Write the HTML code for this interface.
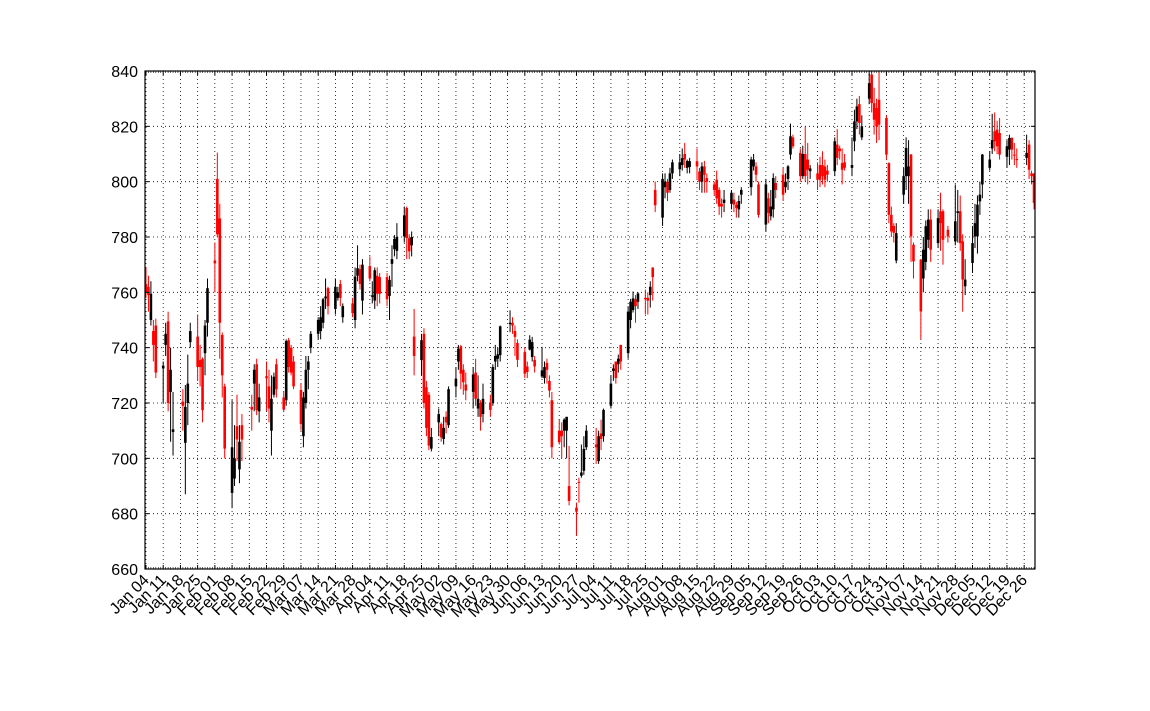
<!DOCTYPE html>
<html>
<head>
<meta charset="utf-8">
<style>
html,body{margin:0;padding:0;background:#fff;}
svg{display:block;font-family:"Liberation Sans","DejaVu Sans",sans-serif;}
</style>
</head>
<body>
<svg id="chart" width="1150" height="711" viewBox="0 0 1150 711" xmlns="http://www.w3.org/2000/svg">
  <rect x="0" y="0" width="1150" height="711" fill="#fff"/>
  <g id="grid"></g>
  <g id="candles"></g>
  <g id="axes"></g>
</svg>
<script>
const dates = [
"01-04","01-05","01-06","01-07","01-08","01-11","01-12","01-13","01-14","01-15","01-19","01-20","01-21","01-22","01-25","01-26","01-27","01-28","01-29",
"02-01","02-02","02-03","02-04","02-05","02-08","02-09","02-10","02-11","02-12","02-16","02-17","02-18","02-19","02-22","02-23","02-24","02-25","02-26","02-29",
"03-01","03-02","03-03","03-04","03-07","03-08","03-09","03-10","03-11","03-14","03-15","03-16","03-17","03-18","03-21","03-22","03-23","03-24","03-28","03-29","03-30","03-31",
"04-01","04-04","04-05","04-06","04-07","04-08","04-11","04-12","04-13","04-14","04-15","04-18","04-19","04-20","04-21","04-22","04-25","04-26","04-27","04-28","04-29",
"05-02","05-03","05-04","05-05","05-06","05-09","05-10","05-11","05-12","05-13","05-16","05-17","05-18","05-19","05-20","05-23","05-24","05-25","05-26","05-27","05-31",
"06-01","06-02","06-03","06-06","06-07","06-08","06-09","06-10","06-13","06-14","06-15","06-16","06-17","06-20","06-21","06-22","06-23","06-24","06-27","06-28","06-29","06-30",
"07-01","07-05","07-06","07-07","07-08","07-11","07-12","07-13","07-14","07-15","07-18","07-19","07-20","07-21","07-22","07-25","07-26","07-27","07-28","07-29",
"08-01","08-02","08-03","08-04","08-05","08-08","08-09","08-10","08-11","08-12","08-15","08-16","08-17","08-18","08-19","08-22","08-23","08-24","08-25","08-26","08-29","08-30","08-31",
"09-01","09-02","09-06","09-07","09-08","09-09","09-12","09-13","09-14","09-15","09-16","09-19","09-20","09-21","09-22","09-23","09-26","09-27","09-28","09-29","09-30",
"10-03","10-04","10-05","10-06","10-07","10-10","10-11","10-12","10-13","10-14","10-17","10-18","10-19","10-20","10-21","10-24","10-25","10-26","10-27","10-28","10-31",
"11-01","11-02","11-03","11-04","11-07","11-08","11-09","11-10","11-11","11-14","11-15","11-16","11-17","11-18","11-21","11-22","11-23","11-25","11-28","11-29","11-30",
"12-01","12-02","12-05","12-06","12-07","12-08","12-09","12-12","12-13","12-14","12-15","12-16","12-19","12-20","12-21","12-22","12-23","12-27","12-28","12-29","12-30"
];
const opens = [
763,762,750,746,748,732.5,741,749.5,724,709.5,720.5,705.6,720,742,744,735.5,736,738,749,
771.5,801,786.7,744.6,726,687.5,692.7,711.6,696,712,718.6,727,734,717,729.7,726,710,723,734,722,
721,742.7,740,735,724.7,708,720,732,740,745,746,749,757.8,761.5,754,758,763,751,756,750,766,768.4,
757,769.5,758.4,757,766,765.5,765.5,758.7,770.3,775.6,775,780.2,790.5,779.6,777,744,735.5,745,725.7,723,703.5,
713,712.4,707,715,712,726,735,740.5,732,726.7,724,731,718,720,716,720,720,735,736,737.3,748.5,
749,746,741.7,738.4,733.2,739.3,736.6,735.6,729.6,729,734.5,728,721,710,710,710,710,690,682.2,691.5,693.7,695.5,
704,705,699,709,708,719,731.6,735,734,741,738,750,753.6,757.5,756.6,758,758,759,769,797,
787,798,800,797,803,804.5,806,810,805,805.3,807.4,803.7,800,805.5,801.3,799,800.7,797,792,792.3,792,793.5,791.6,
790,795.3,798,805.5,805.5,799,784.5,794,787.5,790,799.5,802.5,798,801,809.8,816,810.4,802,810,808,803.8,
803,806,806,805.5,804,803.8,813.4,812,806.7,807,805,814.6,821.8,828,816,830,838.7,828.4,826.6,829.6,823,
806.7,788,784,771.5,795.3,802,802,809.8,777.2,771.8,765,771,779,786.3,777.8,789.3,789.3,782.6,778.4,788.7,789.3,
778.4,762.2,770.6,780.2,780.2,792.9,799,805,812,818.2,818.8,817.6,809,811.6,815.8,809.8,808.2,808.6,813.4,803,803
];
const highs = [
769,766,764,750,750.5,735,749,753,740,724,725,726.5,737.5,749,752,741,736.5,750,765,
778,810.5,792,745.5,727,721,712,723,712,716,723,734,736,727,735,732,730,731,736,724,
743,743.5,741,737,727,724,737,737,746,751,755,758,765,762,765,762,764.5,756,758,769,777,770,
772,773,764,769,769,767,767,766,777,780.7,785,791,791,781,782,754,745,747,728,724,711,
718,713,715,717,726,733,741,741,734,731,733,736,730,721,727,723,734,741,740,748,753.5,
751,748,743,740,735,744.5,743.9,737,740.3,735,736,730,724,714,713,714.5,715,704.5,684,693,705,708,
712,711,710,714,718,730,734,735,737.5,741,755,757.6,760.3,759,760,761,760,764,769,800,
803,803,801,805,808,810,812,814,808,808.6,812,805,807,807.5,803,800,804,798,794,797,797,796,792.7,
795,798,809,810,807,800,801,796,797,803,802,805,803,806,821,817,812,813,820,814,806,
807,809,811,808,806,816,819,813,812,810,816,826,830,831,824,839,840,834,830,840,824,
807,791,785,785,805,816,815,810,778,772,780,786,790,790,790,796,790,784,799,797,795,
781,772,784,792,795,800,810,811,824.5,825,822,823,815,817,816,814,812,817,815,804,803
];
const lows = [
758,753,748,735,729,720,737,717,706,701,710,687,712,740,728,726,713,730,744,
760,780,736,722,700,682,690,699,691,699,710,717,715.6,713,717,713,701,722,722,717,
719,731,730,725,710,704,718,725,738,743,743,747,754,752,752,757,755,749,751,747,764,761,
752,764,756,754,755,756,755,750,762,773,772,778,772,772,773,730,730,718,708,703,702.5,
708,706,705,709,711,722,732,725,723,721,718,719,715,710,713,715,719,732,733,735,745.6,
745,737,733,729,729,739,735,731,729,727,727,722,700,705,700,704,700,683,672,684,693,694,
703,698,698,703,706,718,728,727,731,732,736,747,752.7,749,754,752,752,754.5,757,789,
784,794,793,796,801,802,804,805,803,803,801,797,796,796,796,795,792,788,787,789,790,789,787,
787,792,795,804,800,787,782,785,786,787,794,793,796,797,808,812,800,801,800,799,801,
797,798,799,798,800,802,806,808,799,804,802,811,819,817,815,828,825,817,814,815,808,
785,780,778,770.5,792,797,792,771,765,743,760,768,776,771,776,775,770,778,777,778,775,
753,759,767,776,774,788,794,804,810,811,810,808,805,806,808,806,805,806,801,799,790
];
const closes = [
760,759,759.5,741,731,733.5,745,720,732,710.5,719,718.6,727,746,733,733,717.4,748,761.5,
770.5,781,749,730,703.5,704,700,706.8,706,706.8,717.6,732,717.4,722,728.9,718,721.5,729.5,725,717.6,
742.4,733,731,726,712.4,722,732,735,745,750,751,757.5,758.5,755,762,760,758,755,752.5,765.7,768.7,763,
770,765,758.9,768,759.5,759.5,757.5,764.5,772,779.3,780,787.8,779.6,774.8,780,737,742.7,720,711,704.6,707.7,
716,707.6,711,713,725,728.8,739.6,730.6,727.5,724.5,730.3,721.5,721.5,715,721.5,717.5,733,737,737.6,747.7,749,
748,743.9,735.6,730.6,731.2,742.9,742,733.2,731.8,733,732,724.5,704,705.8,708,714,715,684.6,680.7,691.2,694.9,703.4,
710,704,708,707,717.5,727,732.5,729,736,735,753,756.6,757.8,755,759.6,757.5,757,762,765.5,791.5,
801,800,796,803,807,807,808.5,808,807.5,807.4,805.5,800,805.5,802.5,800,797,794,791,791,793.5,796,791.7,790.5,
793,797,808,808,802.5,788,799,788.7,791,801.3,797,795.3,800,805.5,816.4,812.8,802,810,802,804.3,804.8,
800.7,800.7,802,800.7,802.5,814.6,808.6,811,804.3,805,806,821.8,827.2,821.2,820,835.6,828.4,822.4,820,820.6,809.8,
788,782,781.5,781.4,802,812.2,805.5,780.2,771.2,753.1,775.4,783.9,786.3,775.4,786.8,785,779,780.2,785.7,789.3,777.8,
764.6,764.6,777.8,785,791.7,795.3,809.8,808,815,814.6,812.8,809.8,812.8,815.8,811.6,809.4,807.8,810.4,804.3,802,792.3
];
const yTicks = [660,680,700,720,740,760,780,800,820,840];

const NS = "http://www.w3.org/2000/svg";
const L = 145, R = 1035, T = 71, B = 569;
const base = Date.UTC(2016,0,4);
function dayOf(s){ const p = s.split("-"); return (Date.UTC(2016, +p[0]-1, +p[1]) - base)/86400000; }
const xMin = -0.4, xMax = 361.4, yMin = 660, yMax = 840;
function xs(d){ return L + (d - xMin)/(xMax - xMin)*(R - L); }
function ys(v){ return B - (v - yMin)/(yMax - yMin)*(B - T); }
function mk(tag, attrs, parent){ const e = document.createElementNS(NS, tag); for (const k in attrs) e.setAttribute(k, attrs[k]); parent.appendChild(e); return e; }

const grid = document.getElementById("grid");
const axes = document.getElementById("axes");
const candles = document.getElementById("candles");
const months = ["Jan","Feb","Mar","Apr","May","Jun","Jul","Aug","Sep","Oct","Nov","Dec"];

for (let d = 0; d <= 357; d += 7) {
  const x = xs(d);
  const gl = mk("line", {x1:x, x2:x, y1:T, y2:B, stroke:"#000", "stroke-width":0.8, "stroke-dasharray":"1 3"}, grid);
  
  
  const t1 = mk("line", {x1:x, x2:x, y1:B, y2:B-4, stroke:"#000", "stroke-width":1}, axes);
  
  
  mk("line", {x1:x, x2:x, y1:T, y2:T+4, stroke:"#000", "stroke-width":1}, axes);
  const dt = new Date(base + d*86400000);
  const lbl = months[dt.getUTCMonth()] + " " + String(dt.getUTCDate()).padStart(2,"0");
  const tx = mk("text", {x:x+4, y:B+12, "font-size":16, "text-anchor":"end", transform:"rotate(-45 "+(x+4)+" "+(B+12)+")"}, axes);
  tx.textContent = lbl;
  
  
}
for (let d = 0; d <= 361; d++) {
  const x = xs(d);
  mk("line", {x1:x, x2:x, y1:B, y2:B-2, stroke:"#000", "stroke-width":0.6}, axes);
  mk("line", {x1:x, x2:x, y1:T, y2:T+2, stroke:"#000", "stroke-width":0.6}, axes);
}
yTicks.forEach(v => {
  const y = ys(v);
  if (v > yMin && v < yMax) {
    const gl = mk("line", {x1:L, x2:R, y1:y, y2:y, stroke:"#000", "stroke-width":0.8, "stroke-dasharray":"1 3"}, grid);
    
    
  }
  mk("line", {x1:L, x2:L+4, y1:y, y2:y, stroke:"#000", "stroke-width":1}, axes);
  mk("line", {x1:R, x2:R-4, y1:y, y2:y, stroke:"#000", "stroke-width":1}, axes);
  const tx = mk("text", {x:L-7, y:y+6, "font-size":16, "text-anchor":"end"}, axes);
  tx.textContent = v;
  
  
});
const frame = mk("rect", {x:L, y:T, width:R-L, height:B-T, fill:"none", stroke:"#000", "stroke-width":1.2}, axes);



const bw = 2.6;
for (let i = 0; i < dates.length; i++) {
  const d = dayOf(dates[i]);
  const x = xs(d);
  const o = opens[i], c = closes[i], h = highs[i], l = lows[i];
  const col = c >= o ? "#000" : "#f00";
  const g = mk("g", {}, candles);
  
  
  mk("line", {x1:x, x2:x, y1:ys(h), y2:ys(l), stroke:col, "stroke-width":1}, g);
  const top = ys(Math.max(o,c)), bot = ys(Math.min(o,c));
  mk("rect", {x:x-bw/2, y:top, width:bw, height:Math.max(1, bot-top), fill:col}, g);
}
</script>
</body>
</html>
